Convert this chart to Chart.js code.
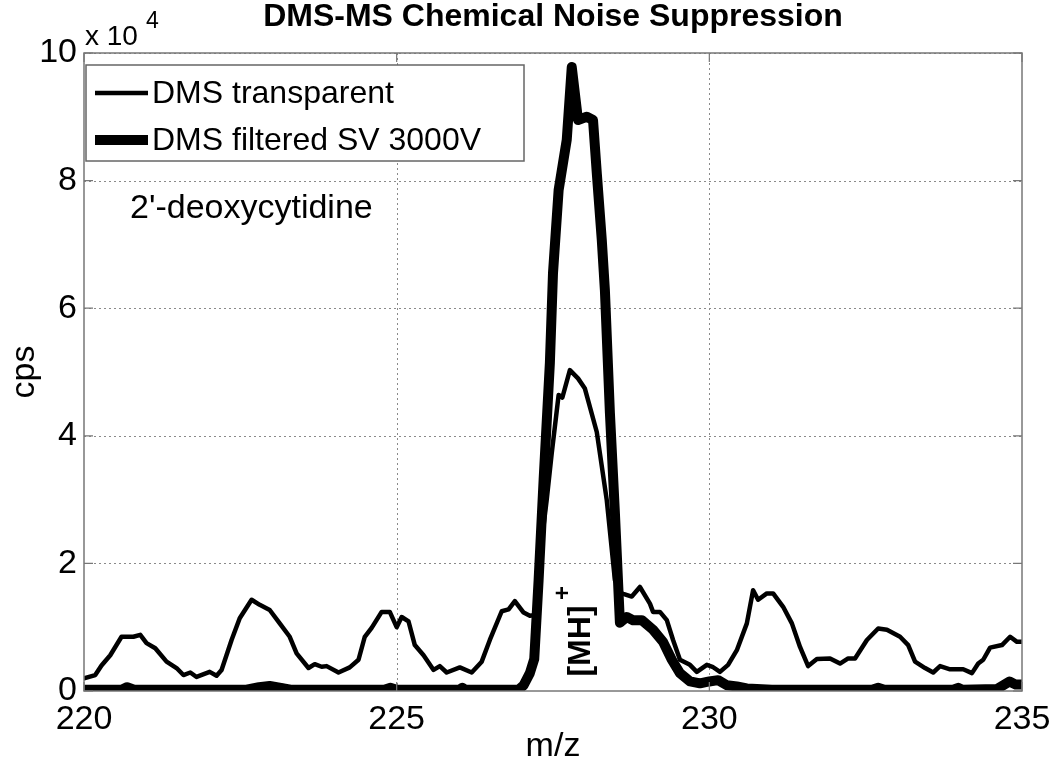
<!DOCTYPE html>
<html>
<head>
<meta charset="utf-8">
<script src="https://cdn.jsdelivr.net/npm/chart.js@4.4.1/dist/chart.umd.min.js"></script>
<style>
html,body{margin:0;padding:0;background:#fff;}
#wrap{width:1050px;height:772px;}
</style>
</head>
<body>
<div id="wrap"><canvas id="c" width="1050" height="772"></canvas></div>
<script>
// m/z values and intensities (cps, in units of 10^4)
const mzTransparent = [220.0,220.18,220.28,220.42,220.6,220.79,220.9,221.0,221.14,221.32,221.48,221.59,221.7,221.8,222.01,222.12,222.2,222.36,222.49,222.68,222.81,222.97,223.13,223.29,223.4,223.59,223.69,223.8,223.88,224.07,224.25,224.39,224.49,224.6,224.76,224.89,225.0,225.08,225.19,225.29,225.43,225.59,225.69,225.8,226.01,226.2,226.36,226.49,226.68,226.79,226.89,227.03,227.13,227.21,227.3,227.4,227.48,227.59,227.65,227.77,227.9,228.01,228.2,228.36,228.49,228.6,228.76,228.89,229.05,229.1,229.21,229.32,229.42,229.53,229.69,229.8,229.96,230.05,230.17,230.3,230.44,230.6,230.7,230.78,230.92,231.02,231.18,231.32,231.45,231.58,231.72,231.93,232.09,232.22,232.33,232.52,232.7,232.84,233.05,233.18,233.29,233.45,233.58,233.69,233.85,234.06,234.2,234.3,234.38,234.49,234.68,234.81,234.92,235.0];
const cpsTransparent = [0.2,0.25,0.4,0.56,0.85,0.85,0.88,0.75,0.67,0.46,0.36,0.25,0.29,0.22,0.3,0.24,0.33,0.8,1.14,1.43,1.35,1.27,1.06,0.85,0.59,0.36,0.42,0.38,0.39,0.29,0.37,0.49,0.85,0.99,1.24,1.24,1.0,1.16,1.09,0.72,0.56,0.33,0.39,0.29,0.37,0.29,0.46,0.8,1.25,1.28,1.41,1.23,1.18,1.19,2.2,3.0,3.73,4.64,4.6,5.03,4.9,4.74,4.06,2.99,1.74,1.53,1.48,1.63,1.37,1.24,1.24,1.11,0.8,0.49,0.41,0.3,0.41,0.38,0.3,0.41,0.64,1.06,1.58,1.43,1.53,1.53,1.32,1.06,0.69,0.39,0.5,0.51,0.43,0.51,0.51,0.8,0.98,0.96,0.85,0.72,0.46,0.36,0.29,0.39,0.34,0.34,0.28,0.43,0.49,0.68,0.72,0.85,0.77,0.77];

const mzFiltered = [220.0,220.6,220.69,220.8,222.6,222.8,222.97,223.15,223.3,224.8,224.9,225.0,226.0,226.05,226.1,226.95,227.03,227.13,227.2,227.27,227.35,227.45,227.5,227.59,227.72,227.8,227.9,228.04,228.14,228.2,228.28,228.33,228.41,228.49,228.57,228.68,228.78,228.92,229.1,229.26,229.4,229.53,229.69,229.85,230.0,230.14,230.28,230.44,230.6,231.0,232.6,232.7,232.8,233.9,233.98,234.05,234.6,234.8,234.9,235.0];
const cpsFiltered = [0.02,0.02,0.06,0.02,0.02,0.06,0.08,0.05,0.02,0.02,0.05,0.02,0.02,0.05,0.02,0.02,0.09,0.28,0.5,1.74,3.31,5.14,6.55,7.85,8.64,9.78,8.95,9.0,8.95,8.12,7.07,6.28,4.36,2.79,1.07,1.16,1.11,1.11,0.96,0.77,0.49,0.28,0.15,0.12,0.15,0.17,0.09,0.07,0.04,0.02,0.02,0.05,0.02,0.02,0.05,0.02,0.03,0.15,0.1,0.1];

const xTicks = [220,225,230,235];
const yTicks = [0,2,4,6,8,10];
const seriesNames = ['DMS transparent','DMS filtered SV 3000V'];

const FONT = "'Liberation Sans', Arial, Helvetica, sans-serif";

function pts(xs, ys){ return xs.map((x,i)=>({x:x, y:ys[i]})); }

const decor = {
  id:'decor',
  beforeDatasetsDraw(chart){
    const ctx = chart.ctx, a = chart.chartArea, xs = chart.scales.x, ys = chart.scales.y;
    ctx.save();
    ctx.strokeStyle = '#8a8a8a';
    ctx.lineWidth = 1;
    ctx.setLineDash([2,3]);
    xTicks.forEach(v=>{
      if (v===220||v===235) return;
      const p = Math.round(xs.getPixelForValue(v))+0.5;
      ctx.beginPath(); ctx.moveTo(p,a.top); ctx.lineTo(p,a.bottom); ctx.stroke();
    });
    yTicks.forEach(v=>{
      if (v===0) return;
      const p = Math.round(ys.getPixelForValue(v))+0.5;
      ctx.beginPath(); ctx.moveTo(a.left,p); ctx.lineTo(a.right,p); ctx.stroke();
    });
    ctx.restore();
  },
  afterDatasetsDraw(chart){
    const ctx = chart.ctx, a = chart.chartArea, xs = chart.scales.x, ys = chart.scales.y;
    ctx.save();
    ctx.strokeStyle = '#777';
    ctx.lineWidth = 1.5;
    ctx.strokeRect(a.left, a.top, a.right-a.left, a.bottom-a.top);
    ctx.lineWidth = 1.2;
    xTicks.forEach(v=>{
      const p = xs.getPixelForValue(v);
      ctx.beginPath(); ctx.moveTo(p,a.bottom); ctx.lineTo(p,a.bottom-9);
      ctx.moveTo(p,a.top); ctx.lineTo(p,a.top+9); ctx.stroke();
    });
    yTicks.forEach(v=>{
      const p = ys.getPixelForValue(v);
      ctx.beginPath(); ctx.moveTo(a.left,p); ctx.lineTo(a.left+9,p);
      ctx.moveTo(a.right,p); ctx.lineTo(a.right-9,p); ctx.stroke();
    });

    // legend
    ctx.fillStyle = '#fff';
    ctx.fillRect(86,65,438,96);
    ctx.strokeStyle = '#666';
    ctx.lineWidth = 1.5;
    ctx.strokeRect(86,65,438,96);
    ctx.strokeStyle = '#000';
    ctx.lineWidth = 4.5;
    ctx.beginPath(); ctx.moveTo(95,93); ctx.lineTo(148,93); ctx.stroke();
    ctx.lineWidth = 10;
    ctx.beginPath(); ctx.moveTo(95,140); ctx.lineTo(148,140); ctx.stroke();
    ctx.fillStyle = '#000';
    ctx.font = '32px ' + FONT;
    ctx.textAlign = 'left';
    ctx.textBaseline = 'middle';
    ctx.fillText(seriesNames[0], 152, 94);
    ctx.fillText(seriesNames[1], 152, 141);

    ctx.font = '34px ' + FONT;
    ctx.textBaseline = 'alphabetic';
    ctx.fillText("2'-deoxycytidine", 130, 218);

    ctx.save();
    ctx.translate(581, 641);
    ctx.rotate(-Math.PI/2);
    ctx.font = 'bold 32px ' + FONT;
    ctx.textAlign = 'center';
    ctx.textBaseline = 'middle';
    ctx.fillText('[MH]', 0, 0);
    ctx.font = 'bold 24px ' + FONT;
    ctx.fillText('+', 48, -18);
    ctx.restore();
    ctx.restore();
  },
  afterDraw(chart){
    const ctx = chart.ctx;
    ctx.save();
    ctx.fillStyle = '#000';
    ctx.textAlign = 'center';
    ctx.textBaseline = 'middle';
    ctx.font = 'bold 32px ' + FONT;
    ctx.fillText('DMS-MS Chemical Noise Suppression', 553, 17);
    ctx.font = '34px ' + FONT;
    ctx.fillText('m/z', 553, 747);
    ctx.save();
    ctx.translate(25, 372);
    ctx.rotate(-Math.PI/2);
    ctx.fillText('cps', 0, 0);
    ctx.restore();
    ctx.textAlign = 'left';
    ctx.textBaseline = 'alphabetic';
    ctx.font = '28px ' + FONT;
    ctx.fillText('x 10', 85, 45);
    ctx.font = '23px ' + FONT;
    ctx.fillText('4', 146, 28);
    ctx.restore();
  }
};

new Chart(document.getElementById('c'), {
  type: 'scatter',
  data: {
    datasets: [
      { label: seriesNames[0], data: pts(mzTransparent, cpsTransparent), showLine: true,
        borderColor: '#000', borderWidth: 4.5, pointRadius: 0, tension: 0, clip: 0,
        borderJoinStyle: 'round', borderCapStyle: 'round' },
      { label: seriesNames[1], data: pts(mzFiltered, cpsFiltered), showLine: true,
        borderColor: '#000', borderWidth: 10, pointRadius: 0, tension: 0, clip: 0,
        borderJoinStyle: 'round', borderCapStyle: 'round' }
    ]
  },
  options: {
    responsive: false,
    animation: false,
    devicePixelRatio: 1,
    layout: { padding: { top: 53, right: 28, left: 0, bottom: 0 } },
    plugins: { legend: { display: false }, tooltip: { enabled: false }, title: { display: false } },
    scales: {
      x: {
        type: 'linear', min: 220, max: 235,
        afterBuildTicks: s => { s.ticks = xTicks.map(v=>({value:v})); },
        afterFit: s => { s.height = 81; s.paddingRight = 0; },
        grid: { display: false, drawTicks: false },
        border: { display: false },
        ticks: { color: '#000', font: { family: FONT, size: 34 }, padding: 8, maxRotation: 0 }
      },
      y: {
        type: 'linear', min: 0, max: 10,
        afterBuildTicks: s => { s.ticks = yTicks.map(v=>({value:v})); },
        afterFit: s => { s.width = 84; },
        grid: { display: false, drawTicks: false },
        border: { display: false },
        ticks: { color: '#000', font: { family: FONT, size: 34 }, padding: 7 }
      }
    }
  },
  plugins: [decor]
});
</script>
</body>
</html>
